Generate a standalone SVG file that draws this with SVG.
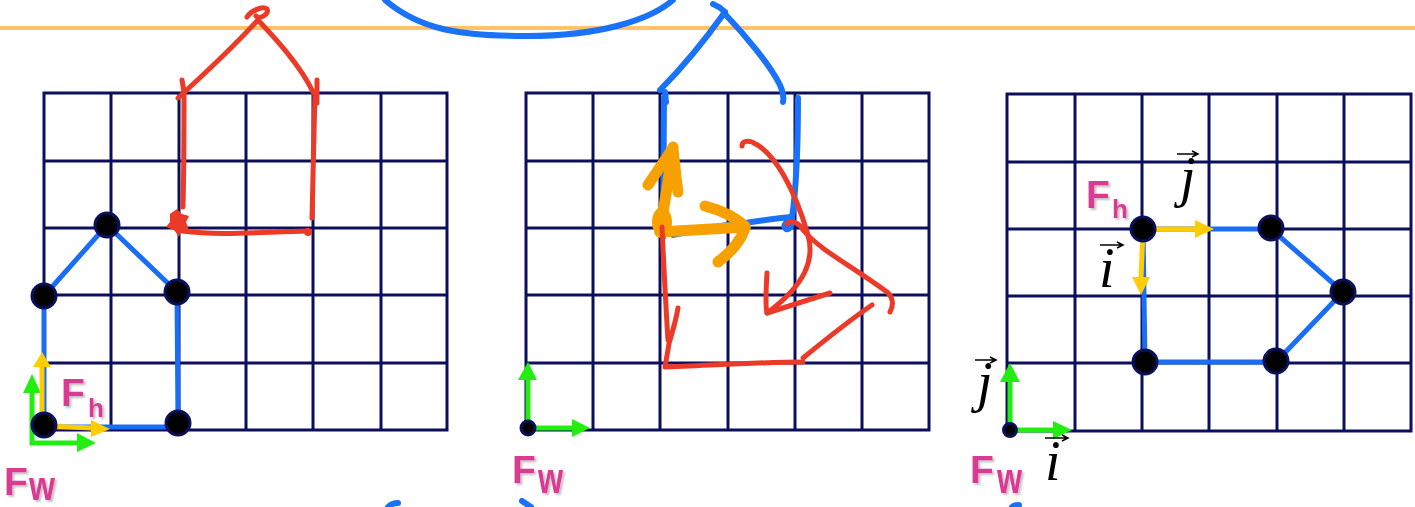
<svg xmlns="http://www.w3.org/2000/svg" width="1415" height="507" viewBox="0 0 1415 507">
<style>
.grid{fill:none;stroke:#0b0f5c;stroke-width:3}
.blue{fill:none;stroke:#1a6ef5;stroke-width:5;stroke-linecap:round;stroke-linejoin:round}
.bluehand{fill:none;stroke:#1a72f8;stroke-width:6;stroke-linecap:round;stroke-linejoin:round}
.red{fill:none;stroke:#ec3a28;stroke-width:5;stroke-linecap:round;stroke-linejoin:round}
.org{fill:none;stroke:#f6a100;stroke-width:11;stroke-linecap:round;stroke-linejoin:round}
.node{fill:#000;stroke:#0b0f5c;stroke-width:3}
.yel{stroke:#ffcc00;stroke-width:5;fill:none}
.yelh{fill:#ffcc00}
.grn{stroke:#22ee11;stroke-width:5;fill:none}
.grnh{fill:#22ee11}
.lbl{font-family:"Liberation Sans",Arial,sans-serif;font-weight:bold;fill:#d93a92;filter:url(#sh)}
.math{font-family:"Liberation Serif","Times New Roman",serif;font-style:italic;fill:#000;font-size:56px}
.vec{stroke:#000;stroke-width:1.5;fill:none}
</style>
<defs>
<filter id="sh" x="-20%" y="-20%" width="150%" height="150%"><feDropShadow dx="2" dy="2" stdDeviation="1" flood-color="#000" flood-opacity="0.25"/></filter>
</defs>
<rect width="1415" height="507" fill="#fff"/>
<line x1="0" y1="28" x2="1415" y2="28" stroke="#ffc466" stroke-width="4"/>
<path class="bluehand" d="M385,0 C420,30 460,36 527,36 C600,36 650,20 673,0"/>
<path class="bluehand" d="M388,507 C391,504 394,503 398,503 M522,501 C525,503 528,505 531,507 M1012,507 C1014,505 1016,505 1019,505" stroke-width="4"/>

<g id="grid1">
<path class="grid" d="M44,93H447V430H44Z M111,93V430 M179,93V430 M246,93V430 M313,93V430 M381,93V430 M44,161H447 M44,228H447 M44,295H447 M44,363H447"/>
</g>
<g id="grid2">
<path class="grid" d="M526,93H929V430H526Z M593,93V430 M660,93V430 M728,93V430 M795,93V430 M862,93V430 M526,161H929 M526,228H929 M526,295H929 M526,363H929"/>
</g>
<g id="grid3">
<path class="grid" d="M1007,94H1411V431H1007Z M1075,94V431 M1142,94V431 M1209,94V431 M1277,94V431 M1344,94V431 M1007,162H1411 M1007,229H1411 M1007,296H1411 M1007,363H1411"/>
</g>

<g id="connectors">
<path class="blue" d="M44,425 L44,296 L107,225 L177,292 L178,423 M44,427 L178,427"/>
<path class="blue" d="M1143,229 L1271,229 L1343,292 L1276,362 L1145,362 L1143,229"/>
</g>

<g id="red-house-1">
<path class="red" d="M247,17 C250,12 262,5 267,9 C270,14 259,20 256,16"/>
<path class="red" d="M178,98 C200,78 235,45 258,20"/>
<path class="red" d="M182,80 L184,92"/>
<path class="red" d="M258,20 C275,38 300,65 313,92"/>
<path class="red" d="M317,80 L317,103"/>
<path class="red" d="M184,92 C184,130 184,170 183,207"/>
<path fill="#ec3a28" d="M170,214 L177,209 L182,214 L189,216 L186,222 L189,230 L181,230 L179,237 L174,230 L166,227 L170,222 Z"/>
<path class="red" d="M182,231 C220,236 260,232 308,231"/>
<circle cx="308" cy="232" r="4" fill="#ec3a28"/>
<path class="red" d="M315,92 C314,140 313,180 312,218"/>
</g>

<g id="blue-house-2">
<path class="bluehand" d="M713,4 C718,6 722,9 725,12"/>
<path class="bluehand" d="M725,12 C705,40 685,65 660,90"/>
<path class="bluehand" d="M725,14 C745,35 770,65 780,85 C783,92 784,97 783,102"/>
<path class="bluehand" d="M665,92 L666,102 M664,98 C664,150 663,200 663,237"/>
<path class="bluehand" d="M798,98 C798,140 796,190 792,218"/>
<path class="bluehand" d="M673,235 C700,230 720,225 745,223 C765,220 780,218 792,217 C793,225 790,230 786,229 C783,227 785,222 789,222"/>
</g>

<g id="orange-arrows">
<path class="org" d="M660,232 C665,200 670,170 673,147"/>
<path class="org" d="M673,148 L648,185"/>
<path class="org" d="M673,150 C675,165 676,180 678,192"/>
<ellipse cx="662" cy="222" rx="10" ry="15" fill="#f6a100"/>
<path class="org" d="M660,232 L745,227"/>
<path class="org" d="M705,206 C720,210 735,217 745,226"/>
<path class="org" d="M745,228 C740,243 730,253 718,262"/>
</g>

<g id="red-house-2">
<path class="red" d="M662,227 C664,270 666,310 668,340"/>
<path class="red" d="M678,308 C676,320 673,330 670,340"/>
<path class="red" d="M670,338 L665,367 C700,366 760,362 803,362"/>
<path class="red" d="M872,305 C850,320 825,340 803,358"/>
<path class="red" d="M742,146 C742,142 746,140 752,142 C775,152 795,190 808,235 C815,260 805,285 767,313"/>
<path class="red" d="M767,273 C766,290 765,305 767,313 L830,293"/>
<path class="red" d="M787,224 C790,220 798,221 803,230 C820,250 850,265 887,292 C893,297 894,305 890,312"/>
</g>

<g id="axes1">
<path class="grn" d="M32,393 L32,443 L77,443"/>
<polygon class="grnh" points="23,393 41,393 32,374"/>
<polygon class="grnh" points="77,433 77,452 96,443"/>
<path class="yel" d="M42,425 L42,366 M44,426 L92,428"/>
<polygon class="yelh" points="33,367 51,367 42,352"/>
<polygon class="yelh" points="91,420 91,437 110,429"/>
</g>
<g id="axes2">
<path class="grn" d="M528,428 L528,379 M528,428 L572,428"/>
<polygon class="grnh" points="518,380 537,380 528,362"/>
<polygon class="grnh" points="572,419 572,437 590,428"/>
<circle cx="528" cy="428" r="7" class="node"/>
</g>
<g id="axes3">
<path class="grn" d="M1010,430 L1010,381 M1010,430 L1053,430"/>
<polygon class="grnh" points="1000,382 1020,382 1010,363"/>
<polygon class="grnh" points="1053,421 1053,439 1072,430"/>
<circle cx="1010" cy="430" r="6.5" class="node"/>
<path class="yel" d="M1143,229 L1197,229 M1143,229 L1141,278"/>
<polygon class="yelh" points="1195,220 1195,238 1214,229"/>
<polygon class="yelh" points="1132,277 1150,277 1141,295"/>
</g>

<g id="nodes1">
<circle class="node" cx="44" cy="296" r="12"/>
<circle class="node" cx="107" cy="225" r="12"/>
<circle class="node" cx="177" cy="292" r="12"/>
<circle class="node" cx="44" cy="425" r="12"/>
<circle class="node" cx="178" cy="423" r="12"/>
</g>
<g id="nodes3">
<circle class="node" cx="1143" cy="229" r="12"/>
<circle class="node" cx="1271" cy="228" r="12"/>
<circle class="node" cx="1343" cy="292" r="12"/>
<circle class="node" cx="1145" cy="362" r="12"/>
<circle class="node" cx="1276" cy="361" r="12"/>
</g>

<g id="labels">
<text class="lbl" x="61" y="406" font-size="39">F</text>
<text class="lbl" x="88" y="417" font-size="26">h</text>
<text class="lbl" x="4" y="495" font-size="39">F</text>
<text class="lbl" x="29" y="500" font-size="40" textLength="26" lengthAdjust="spacingAndGlyphs">w</text>
<text class="lbl" x="512" y="483" font-size="39">F</text>
<text class="lbl" x="538" y="493" font-size="42" textLength="25" lengthAdjust="spacingAndGlyphs">w</text>
<text class="lbl" x="970" y="483" font-size="39">F</text>
<text class="lbl" x="997" y="493" font-size="42" textLength="25" lengthAdjust="spacingAndGlyphs">w</text>
<text class="lbl" x="1086" y="208" font-size="39">F</text>
<text class="lbl" x="1112" y="218" font-size="26">h</text>
</g>
<g id="math">
<text class="math" x="1180" y="196">j</text>
<path class="vec" d="M1177,154 L1197,154 M1192,151 L1198,154 L1192,157"/>
<text class="math" x="1099" y="287">i</text>
<path class="vec" d="M1100,245 L1122,245 M1117,242 L1123,245 L1117,248"/>
<text class="math" x="977" y="401">j</text>
<path class="vec" d="M975,360 L995,360 M990,357 L996,360 L990,363"/>
<text class="math" x="1045" y="480">i</text>
<path class="vec" d="M1045,438 L1067,438 M1062,435 L1068,438 L1062,441"/>
</g>
</svg>
